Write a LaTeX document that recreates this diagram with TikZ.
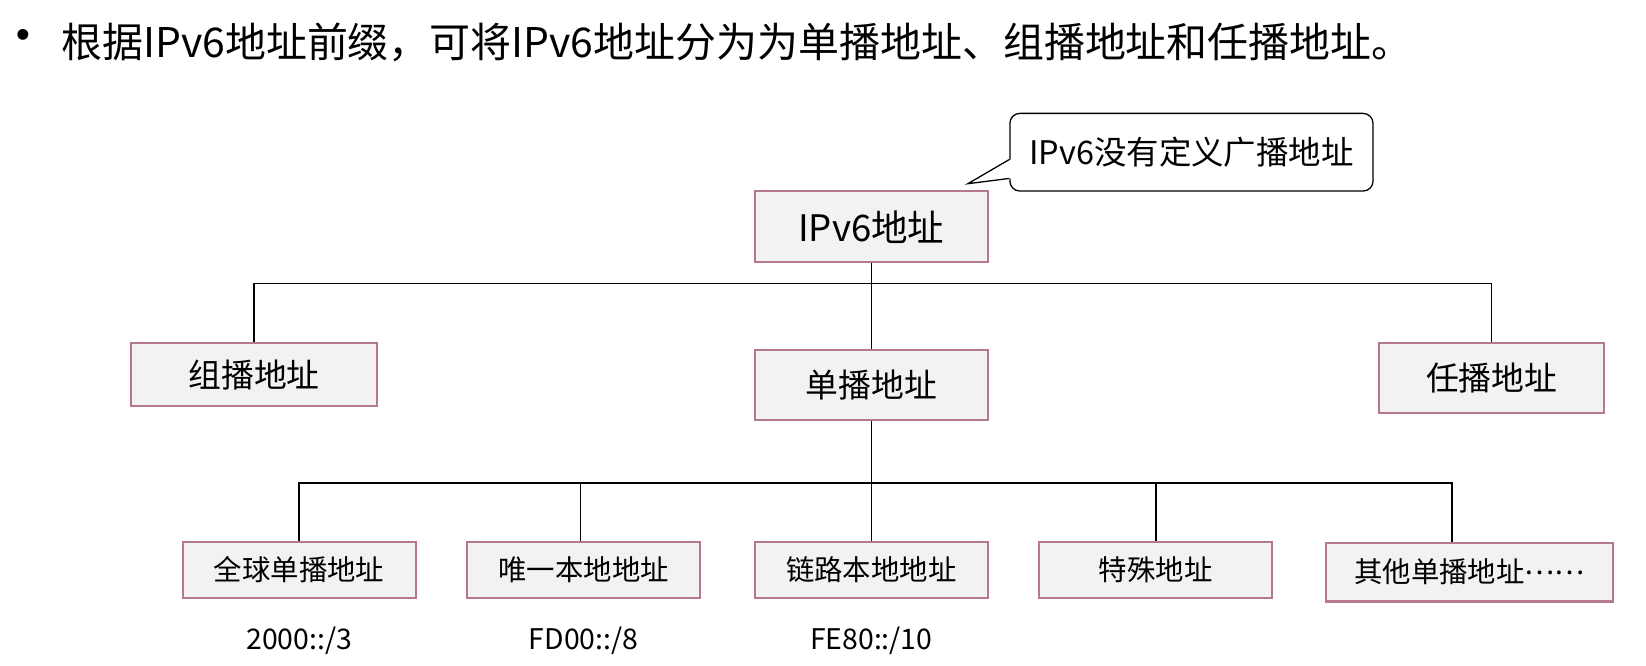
\documentclass[tikz,border=0pt]{standalone}
\usepackage{fontspec}
\setmainfont{Noto Sans CJK SC}
\usetikzlibrary{calc}
\definecolor{boxline}{HTML}{B5788F}
\definecolor{boxfill}{HTML}{F2F2F2}
\newcommand{\fs}[1]{\fontsize{#1}{#1}\selectfont}

\begin{document}
\begin{tikzpicture}[x=0.02cm, y=-0.02cm,
    addrbox/.style={draw=boxline, fill=boxfill, line width=1.1pt, inner sep=0pt},
    topbox/.style={addrbox, minimum width=4.44cm, minimum height=1.36cm, font=\fs{19.8}},
    midbox/.style={addrbox, minimum height=1.26cm, font=\fs{17.8}},
    lowbox/.style={addrbox, minimum width=4.44cm, minimum height=1.06cm, font=\fs{15.4}},
    prefixlabel/.style={font=\fs{15.4}},
    link/.style={line width=0.8pt}]
    \useasboundingbox (0,0) rectangle (1568,634);

    % Bullet line
    \node (dot) at (22,40) {\fs{28}•};
    \node[anchor=west, inner sep=0pt, font=\fs{22.2}] (title) at (58,40)
        {根据IPv6地址前缀，可将IPv6地址分为为单播地址、组播地址和任播地址。};

    % Root and callout
    \node[topbox] (ipv6) at (830,216) {IPv6地址};
    \node[draw, rounded corners=0.19cm, line width=0.7pt, minimum width=6.92cm,
          minimum height=1.48cm, font=\fs{17.6}] (note) at (1135,145) {IPv6没有定义广播地址};
    \coordinate (tip) at (922,175);
    \fill[white] ($(note.west)+(1.5,7)$) -- (tip) -- ($(note.west)+(1.5,25)$) -- cycle;
    \draw[line width=0.7pt] ($(note.west)+(0,7)$) -- (tip) -- ($(note.west)+(0,25)$);

    % Second level
    \node[midbox, minimum width=4.7cm, minimum height=1.2cm] (multi) at (242,357) {组播地址};
    \node[midbox, minimum width=4.44cm, minimum height=1.34cm] (uni) at (830,367) {单播地址};
    \node[midbox, minimum width=4.28cm, minimum height=1.32cm] (any) at (1421,360) {任播地址};

    \coordinate (bus1) at (830,270);
    \draw[link] (ipv6.south) -- (uni.north);
    \draw[link] (multi.north) |- (bus1) -| (any.north);

    % Third level
    \node[lowbox] (glob) at (285,543) {全球单播地址};
    \node[lowbox] (uniq) at (556,543) {唯一本地地址};
    \node[lowbox] (llink) at (830,543) {链路本地地址};
    \node[lowbox] (spec) at (1101,543) {特殊地址};
    \node[lowbox, minimum width=5.46cm, minimum height=1.12cm] (other) at (1400,545)
        {其他单播地址\raisebox{0.3em}{……}};

    \coordinate (bus2) at (830,460);
    \draw[link] (uni.south) -- (llink.north);
    \draw[link] (glob.north) |- (bus2) -| ([xshift=-0.34cm]other.north);
    \draw[link] ([xshift=-0.06cm]uniq.north) -- ([xshift=-0.06cm]uniq.north |- bus2);
    \draw[link] (spec.north) -- (spec.north |- bus2);

    % Prefixes
    \node[prefixlabel] (pglob) at (285,610) {2000::/3};
    \node[prefixlabel] (puniq) at (556,610) {FD00::/8};
    \node[prefixlabel] (pllink) at (830,610) {FE80::/10};
\end{tikzpicture}
\end{document}
